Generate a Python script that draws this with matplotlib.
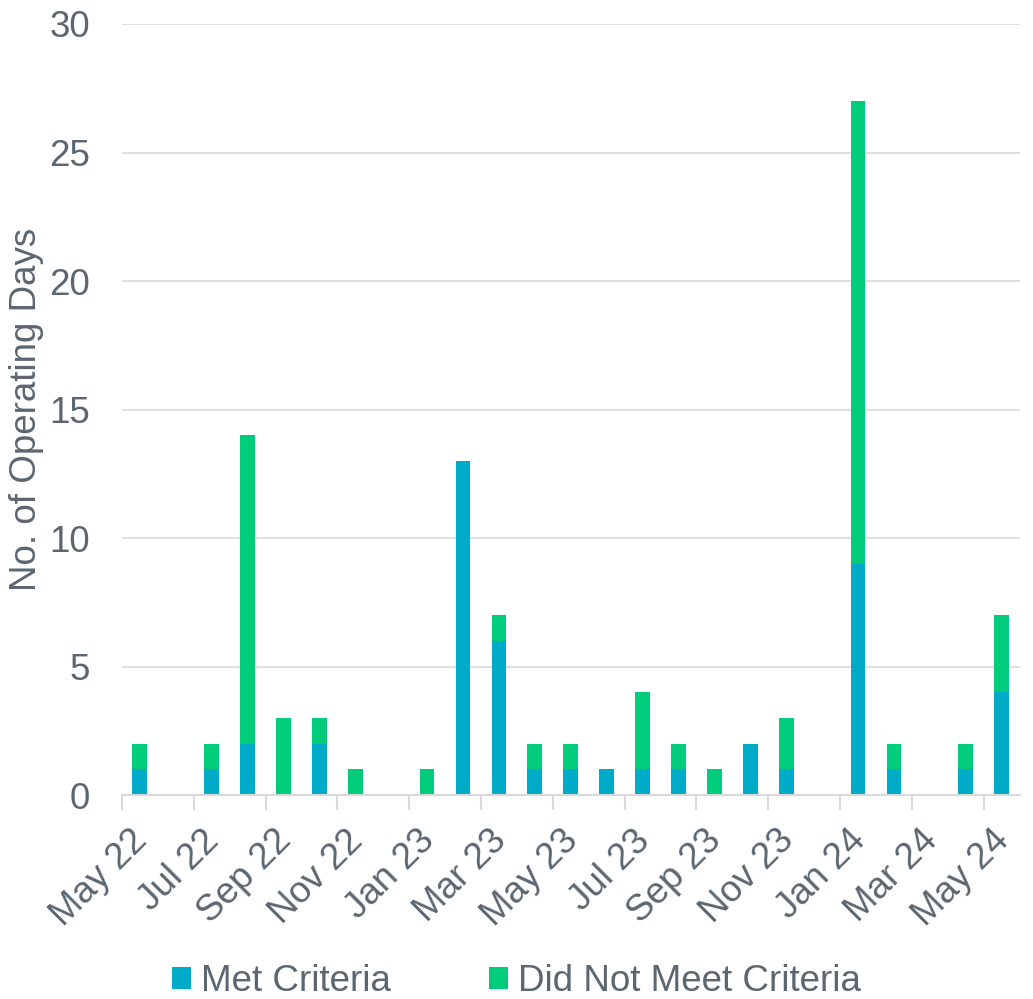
import numpy as np
import matplotlib.pyplot as plt
import matplotlib.transforms as mtransforms

# Monthly operating days, May 22 - May 24
months = ["May 22", "Jun 22", "Jul 22", "Aug 22", "Sep 22", "Oct 22", "Nov 22", "Dec 22",
          "Jan 23", "Feb 23", "Mar 23", "Apr 23", "May 23", "Jun 23", "Jul 23", "Aug 23",
          "Sep 23", "Oct 23", "Nov 23", "Dec 23", "Jan 24", "Feb 24", "Mar 24", "Apr 24", "May 24"]
met = [1, 0, 1, 2, 0, 2, 0, 0, 0, 13, 6, 1, 1, 1, 1, 1, 0, 2, 1, 0, 9, 1, 0, 1, 4]
not_met = [1, 0, 1, 12, 3, 1, 1, 0, 1, 0, 1, 1, 1, 0, 3, 1, 1, 0, 2, 0, 18, 1, 0, 1, 3]
yticks = [0, 5, 10, 15, 20, 25, 30]

txt_col = "#5B6670"
grid_col = "#D9D9D9"
blue = "#00ABC8"
green = "#00CC7B"

plt.rcParams['font.family'] = ['Liberation Sans', 'DejaVu Sans']
plt.rcParams['font.size'] = 26.5

fig = plt.figure(figsize=(10.33, 9.99), dpi=100)
ax = fig.add_axes([0.118, 0.204, 0.869, 0.772])

x = np.arange(len(months)) + 0.5
ax.bar(x, met, width=0.41, color=blue, label="Met Criteria", zorder=3)
ax.bar(x, not_met, width=0.41, bottom=met, color=green, label="Did Not Meet Criteria", zorder=3)

ax.set_xlim(0, 25)
ax.set_ylim(0, 30)
ax.set_yticks(yticks)
ax.yaxis.grid(True, color=grid_col, linewidth=1.2, zorder=0)
ax.tick_params(axis='y', length=0, pad=23, colors=txt_col)

tick_pos = np.arange(0, len(months), 2)
ax.set_xticks(tick_pos)
ax.set_xticklabels([months[i] for i in tick_pos], rotation=45, ha='right',
                   rotation_mode='anchor', va='center')
ax.tick_params(axis='x', length=11, width=1.5, colors=txt_col, pad=18)
for lbl in ax.get_xticklabels():
    lbl.set_color(txt_col)
    lbl.set_transform(lbl.get_transform() + mtransforms.ScaledTranslation(0.2, 0, fig.dpi_scale_trans))
ax.tick_params(axis='x', color=grid_col)

for s in ['top', 'right', 'left']:
    ax.spines[s].set_visible(False)
ax.spines['bottom'].set_color(grid_col)
ax.spines['bottom'].set_linewidth(1.5)
ax.spines['bottom'].set_zorder(4)

ax.set_ylabel("No. of Operating Days", color=txt_col)
ax.yaxis.set_label_coords(-0.087, 0.5)

fig.legend(loc='lower center', bbox_to_anchor=(0.5, -0.033), ncol=2, frameon=False,
           handlelength=0.52, handleheight=0.52, handletextpad=0.27, columnspacing=2.66,
           labelcolor=txt_col)

fig.savefig("out.png", dpi=100)
